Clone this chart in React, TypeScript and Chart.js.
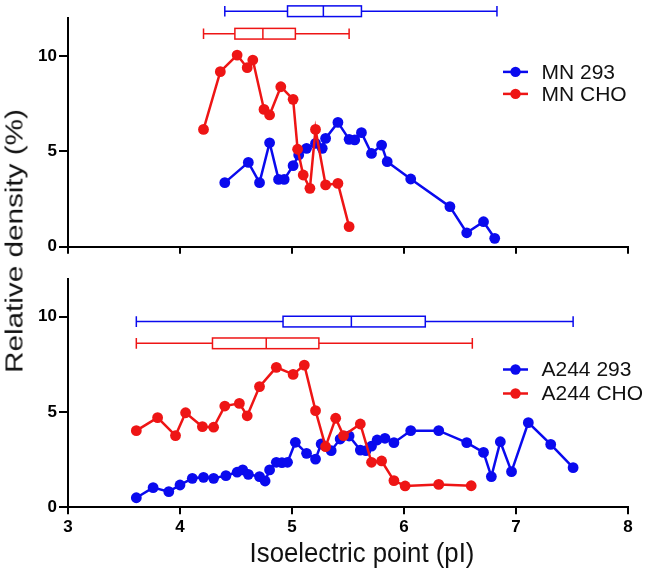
import React, { useEffect, useRef } from "react";
import { Chart, registerables } from "chart.js";

Chart.register(...registerables);

// ---------- data ----------
const xTicks = [3, 4, 5, 6, 7, 8];
const yTicks = [0, 5, 10];

const mn293Label = "MN 293";
const mn293X = [4.40, 4.61, 4.71, 4.80, 4.88, 4.93, 5.01, 5.06, 5.13, 5.21, 5.27, 5.30, 5.41, 5.51, 5.56, 5.62, 5.71, 5.80, 5.85, 6.06, 6.41, 6.56, 6.71, 6.81];
const mn293Y = [3.36, 4.42, 3.36, 5.45, 3.53, 3.53, 4.25, 4.81, 5.16, 5.42, 5.16, 5.68, 6.52, 5.63, 5.60, 5.98, 4.89, 5.33, 4.46, 3.55, 2.10, 0.73, 1.31, 0.44];

const mnChoLabel = "MN CHO";
const mnChoX = [4.21, 4.36, 4.51, 4.60, 4.65, 4.75, 4.80, 4.90, 5.01, 5.05, 5.10, 5.16, 5.21, 5.30, 5.41, 5.51];
const mnChoY = [6.15, 9.18, 10.05, 9.39, 9.79, 7.20, 6.91, 8.39, 7.73, 5.11, 3.76, 3.06, 6.15, 3.24, 3.32, 1.05];

const a244293Label = "A244 293";
const a244293X = [3.61, 3.76, 3.90, 4.00, 4.11, 4.21, 4.30, 4.41, 4.51, 4.56, 4.61, 4.71, 4.76, 4.80, 4.86, 4.91, 4.96, 5.03, 5.13, 5.21, 5.26, 5.35, 5.43, 5.51, 5.61, 5.66, 5.71, 5.76, 5.83, 5.91, 6.06, 6.31, 6.56, 6.71, 6.78, 6.86, 6.96, 7.11, 7.31, 7.51];
const a244293Y = [0.50, 1.03, 0.82, 1.17, 1.52, 1.57, 1.52, 1.66, 1.84, 1.96, 1.73, 1.61, 1.38, 1.96, 2.36, 2.34, 2.36, 3.41, 2.83, 2.53, 3.32, 2.97, 3.58, 3.74, 3.00, 2.97, 3.21, 3.53, 3.62, 3.39, 4.02, 4.02, 3.39, 2.88, 1.61, 3.44, 1.87, 4.44, 3.30, 2.08];

const a244ChoLabel = "A244 CHO";
const a244ChoX = [3.61, 3.80, 3.96, 4.05, 4.20, 4.30, 4.40, 4.53, 4.60, 4.71, 4.86, 5.01, 5.11, 5.21, 5.30, 5.39, 5.46, 5.61, 5.71, 5.80, 5.91, 6.01, 6.31, 6.60];
const a244ChoY = [4.02, 4.70, 3.76, 4.96, 4.23, 4.20, 5.31, 5.45, 4.80, 6.33, 7.34, 6.97, 7.46, 5.07, 3.18, 4.67, 3.76, 4.37, 2.36, 2.43, 1.40, 1.12, 1.20, 1.13];

// box plots: [min, q1, median, q3, max]
const boxMN293 = [4.40, 4.96, 5.28, 5.62, 6.83];
const boxMNCho = [4.21, 4.49, 4.74, 5.03, 5.51];
const boxA244293 = [3.61, 4.92, 5.53, 6.19, 7.51];
const boxA244Cho = [3.61, 4.29, 4.77, 5.24, 6.61];

const BLUE = "#0a0aee";
const RED = "#ee1515";
const FONT = '"Liberation Sans", Arial, Helvetica, sans-serif';

type Box = { stats: number[]; y: number; color: string };
type LegendItem = { label: string; color: string };

function makeExtras(boxes: Box[], legend: LegendItem[], legendTop: number, legendGap: number) {
  return {
    id: "extras",
    afterDraw(chart: any) {
      const ctx = chart.ctx as CanvasRenderingContext2D;
      const xs = chart.scales.x;
      const ys = chart.scales.y;
      ctx.save();
      const half = 0.28;
      for (const b of boxes) {
        const [mn, q1, md, q3, mx] = b.stats;
        const yc = ys.getPixelForValue(b.y);
        const h = ys.getPixelForValue(b.y - half) - yc;
        const p = (v: number) => xs.getPixelForValue(v);
        ctx.strokeStyle = b.color;
        ctx.lineWidth = 1.5;
        ctx.beginPath();
        ctx.moveTo(p(mn), yc);
        ctx.lineTo(p(q1), yc);
        ctx.moveTo(p(q3), yc);
        ctx.lineTo(p(mx), yc);
        ctx.moveTo(p(mn), yc - h);
        ctx.lineTo(p(mn), yc + h);
        ctx.moveTo(p(mx), yc - h);
        ctx.lineTo(p(mx), yc + h);
        ctx.moveTo(p(md), yc - h);
        ctx.lineTo(p(md), yc + h);
        ctx.stroke();
        ctx.strokeRect(p(q1), yc - h, p(q3) - p(q1), 2 * h);
      }
      const { left, top } = chart.chartArea;
      legend.forEach((item, i) => {
        const y = top + legendTop + i * legendGap;
        const x0 = left + 435;
        ctx.strokeStyle = item.color;
        ctx.fillStyle = item.color;
        ctx.lineWidth = 2.5;
        ctx.beginPath();
        ctx.moveTo(x0, y);
        ctx.lineTo(x0 + 25, y);
        ctx.stroke();
        ctx.beginPath();
        ctx.arc(x0 + 12.5, y, 5.2, 0, Math.PI * 2);
        ctx.fill();
        ctx.fillStyle = "#111";
        ctx.font = `21px ${FONT}`;
        ctx.textBaseline = "middle";
        ctx.textAlign = "left";
        ctx.fillText(item.label, x0 + 38.5, y + 1);
      });
      ctx.restore();
    },
  };
}

function series(label: string, xs: number[], ys: number[], color: string, order: number) {
  return {
    label,
    data: xs.map((x, i) => ({ x, y: ys[i] })),
    borderColor: color,
    backgroundColor: color,
    pointBackgroundColor: color,
    borderWidth: 2.5,
    pointRadius: 5.4,
    pointHoverRadius: 5.4,
    pointBorderWidth: 0,
    tension: 0,
    order,
  };
}

function makeOptions(showXLabels: boolean, padTop: number, xHeight: number): any {
  return {
    animation: false,
    responsive: false,
    events: [],
    layout: { padding: { top: padTop, right: 24, left: 0, bottom: 0 } },
    plugins: { legend: { display: false }, tooltip: { enabled: false }, title: { display: false } },
    scales: {
      x: {
        type: "linear",
        min: 3,
        max: 8,
        afterBuildTicks: (s: any) => {
          s.ticks = xTicks.map((v) => ({ value: v }));
        },
        afterFit: (s: any) => {
          s.height = xHeight;
        },
        ticks: {
          display: showXLabels,
          color: "#000",
          padding: 3,
          font: { family: FONT, size: 17, weight: "bold" },
        },
        grid: { drawOnChartArea: false, drawTicks: true, tickLength: 7, color: "#000", lineWidth: 2 },
        border: { display: true, color: "#000", width: 2 },
      },
      y: {
        type: "linear",
        min: 0,
        max: 12,
        afterBuildTicks: (s: any) => {
          s.ticks = yTicks.map((v) => ({ value: v }));
        },
        afterFit: (s: any) => {
          s.width = 68;
        },
        ticks: {
          color: "#000",
          padding: 2,
          font: { family: FONT, size: 17, weight: "bold" },
        },
        grid: { drawOnChartArea: false, drawTicks: true, tickLength: 9, color: "#000", lineWidth: 2 },
        border: { display: true, color: "#000", width: 2 },
      },
    },
  };
}

export default function App() {
  const topRef = useRef<HTMLCanvasElement>(null);
  const botRef = useRef<HTMLCanvasElement>(null);

  useEffect(() => {
    const top = new Chart(topRef.current!, {
      type: "line",
      data: {
        datasets: [
          series(mn293Label, mn293X, mn293Y, BLUE, 1),
          series(mnChoLabel, mnChoX, mnChoY, RED, 0),
        ],
      },
      options: makeOptions(false, 17.9, 15.3),
      plugins: [
        makeExtras(
          [
            { stats: boxMN293, y: 12.35, color: BLUE },
            { stats: boxMNCho, y: 11.17, color: RED },
          ],
          [
            { label: mn293Label, color: BLUE },
            { label: mnChoLabel, color: RED },
          ],
          54,
          22
        ),
      ],
    } as any);

    const bot = new Chart(botRef.current!, {
      type: "line",
      data: {
        datasets: [
          series(a244293Label, a244293X, a244293Y, BLUE, 1),
          series(a244ChoLabel, a244ChoX, a244ChoY, RED, 0),
        ],
      },
      options: makeOptions(true, 16.5, 63.7),
      plugins: [
        makeExtras(
          [
            { stats: boxA244293, y: 9.74, color: BLUE },
            { stats: boxA244Cho, y: 8.6, color: RED },
          ],
          [
            { label: a244293Label, color: BLUE },
            { label: a244ChoLabel, color: RED },
          ],
          91,
          24
        ),
      ],
    } as any);

    return () => {
      top.destroy();
      bot.destroy();
    };
  }, []);

  return (
    <div
      style={{
        position: "absolute",
        left: 0,
        top: 0,
        width: 652,
        height: 571,
        background: "#fff",
        overflow: "hidden",
        fontFamily: FONT,
      }}
    >
      <canvas ref={topRef} width={652} height={262} style={{ position: "absolute", left: 0, top: 0, display: "block" }} />
      <canvas ref={botRef} width={652} height={309} style={{ position: "absolute", left: 0, top: 262, display: "block" }} />
      <div style={{ position: "absolute", left: 15, top: 241, width: 0, height: 0 }}>
        <span
          style={{
            position: "absolute",
            left: 0,
            top: 0,
            whiteSpace: "nowrap",
            fontSize: 23,
            lineHeight: "23px",
            color: "#111",
            transform: "translate(-50%, -50%) rotate(-90deg) scaleX(1.29)",
          }}
        >
          Relative density (%)
        </span>
      </div>
      <div style={{ position: "absolute", left: 362, top: 553, width: 0, height: 0 }}>
        <span
          style={{
            position: "absolute",
            left: 0,
            top: 0,
            whiteSpace: "nowrap",
            fontSize: 28,
            lineHeight: "28px",
            color: "#111",
            transform: "translate(-50%, -50%) scaleX(0.92)",
          }}
        >
          Isoelectric point (pI)
        </span>
      </div>
    </div>
  );
}
